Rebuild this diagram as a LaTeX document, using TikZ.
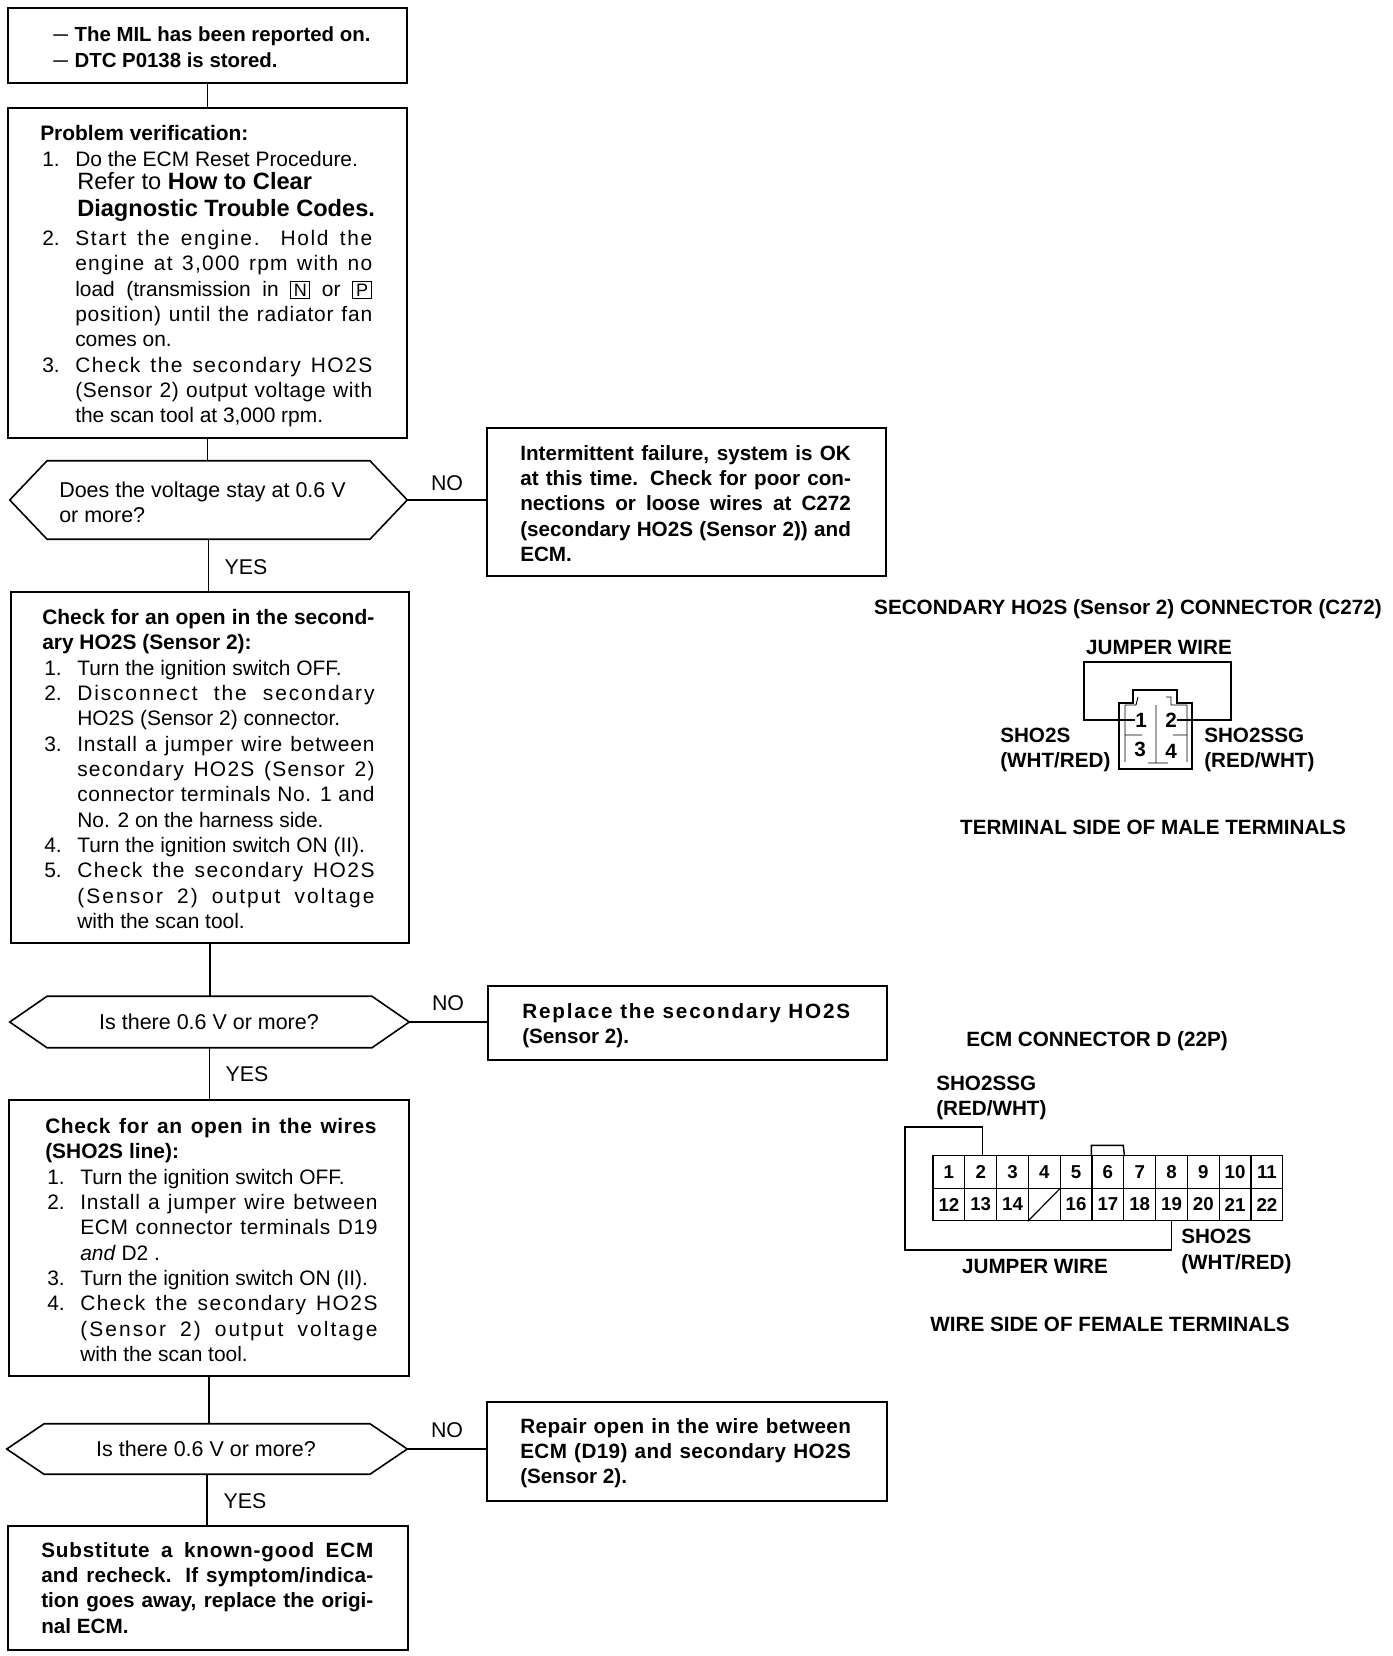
\documentclass[tikz,border=0pt]{standalone}
\usepackage{fontspec}
\setmainfont{Liberation Sans}
\newlength\tw
\newlength\nw
\setlength\nw{24.75pt}
\newcommand\Js[1]{\makebox[\tw][s]{#1}}
\newcommand\Jl[1]{\makebox[\tw][l]{#1}}
\newcommand\It[1]{\makebox[\nw][l]{#1}}
\newcommand\In{\hspace*{\nw}}
\newcommand\Ls[2]{{\addfontfeature{LetterSpace=#1}#2}}
\newcommand\Kbox[1]{{\fboxsep=1.5pt\fboxrule=0.8pt\fbox{\makebox[10.5pt]{\fontsize{13.5}{13.5}\selectfont #1}}}}
\newcommand\Dash{\makebox[16pt][l]{\raisebox{1.2pt}{\fontsize{11}{11}\selectfont\bfseries —}}}
\newcommand\Hexa[1]{\draw[hexline] (#1.west) -- ([xshift=28pt]#1.north west) -- ([xshift=-28pt]#1.north east) -- (#1.east) -- ([xshift=-28pt]#1.south east) -- ([xshift=28pt]#1.south west) -- cycle;}
\tikzset{
  flowbox/.style={draw,line width=1.2pt,inner sep=0pt,anchor=north west},
  decision/.style={inner sep=0pt,anchor=center},
  hexline/.style={line width=1.2pt,line join=miter},
  txt/.style={inner sep=0pt,anchor=north west,align=left,font=\fontsize{15.7}{19}\selectfont},
  btxt/.style={inner sep=0pt,anchor=north west,align=left,font=\bfseries\fontsize{15.5}{19}\selectfont},
  flabel/.style={inner sep=0pt,font=\fontsize{16}{16}\selectfont},
  dlabel/.style={inner sep=0pt,font=\fontsize{16.1}{16.1}\selectfont},
  clabel/.style={inner sep=0pt,font=\bfseries\fontsize{15.5}{15.5}\selectfont},
  link/.style={line width=1.1pt},
  wire/.style={line width=1.1pt},
  thin wire/.style={line width=0.7pt},
  cell/.style={draw,line width=0.9pt,inner sep=0pt,minimum width=23.85pt,minimum height=24.2pt,font=\bfseries\fontsize{14}{14}\selectfont},
}
\begin{document}
\begin{tikzpicture}[x=0.75pt,y=-0.75pt]
\useasboundingbox (0,0) rectangle (1392,1656);
\fill[white] (0,0) rectangle (1392,1656);

% flow boxes
\node[flowbox,minimum width=299.25pt,minimum height=56.25pt] (b1) at (7,7) {};
\node[flowbox,minimum width=299.25pt,minimum height=247.5pt] (b2) at (7,107) {};
\node[flowbox,minimum width=298.5pt,minimum height=263.25pt] (b3) at (10,591) {};
\node[flowbox,minimum width=300pt,minimum height=207pt] (b4) at (8,1099) {};
\node[flowbox,minimum width=300pt,minimum height=93pt] (b5) at (7,1525) {};
\node[flowbox,minimum width=299.25pt,minimum height=111pt] (n1) at (486,427) {};
\node[flowbox,minimum width=299.25pt,minimum height=55.5pt] (n2) at (487,985) {};
\node[flowbox,minimum width=300pt,minimum height=74.25pt] (n3) at (486,1401) {};

% decisions
\node[decision,minimum width=297.75pt,minimum height=58.5pt] (d1) at (208.5,500) {};
\node[decision,minimum width=299.25pt,minimum height=38.25pt] (d2) at (209.5,1022) {};
\node[decision,minimum width=300pt,minimum height=37.5pt] (d3) at (207,1449) {};
\Hexa{d1}
\Hexa{d2}
\Hexa{d3}

% connectors
\draw[link] (b1.south) -- (b1.south |- b2.north);
\draw[link] (b2.south) -- (b2.south |- d1.north);
\draw[link] (d1.south) -- (d1.south |- b3.north);
\draw[link] (b3.south) -- (b3.south |- d2.north);
\draw[link] (d2.south) -- (d2.south |- b4.north);
\draw[link] (b4.south) -- (b4.south |- d3.north);
\draw[link] (d3.south) -- (d3.south |- b5.north);
\draw[link] (d1.east) -- (n1.west |- d1.east);
\draw[link] (d2.east) -- (n2.west |- d2.east);
\draw[link] (d3.east) -- (n3.west |- d3.east);

% flow labels
\node[flabel] (no1) at (447,483) {NO};
\node[flabel] (no2) at (448,1003) {NO};
\node[flabel] (no3) at (447,1430) {NO};
\node[flabel] (yes1) at (246,567) {YES};
\node[flabel] (yes2) at (247,1074) {YES};
\node[flabel] (yes3) at (245,1501) {YES};

% decision text
\node[txt,font=\fontsize{16.1}{18.5}\selectfont] (dt1) at (59,482) {Does the voltage stay at 0.6 V\\or more?};
\node[dlabel] (dt2) at (209,1022) {Is there 0.6 V or more?};
\node[dlabel] (dt3) at (206,1449) {Is there 0.6 V or more?};

% box text
\node[btxt,font=\bfseries\fontsize{15.3}{19.8}\selectfont] (t1) at (53,26) {\Dash The MIL has been reported on.\\\Dash DTC P0138 is stored.};

\node[txt] (t2) at (40,125.5) {\global\tw=222.75pt\relax
\textbf{Problem verification:}\\
\hspace*{1.5pt}\It{1.}\Jl{Do the ECM Reset Procedure.}\\[-1.7pt]
\hspace*{3pt}\In{\fontsize{17.7}{19}\selectfont Refer to \textbf{How to Clear}}\\[1.3pt]
\hspace*{3pt}\In{\fontsize{17.7}{19}\selectfont\textbf{Diagnostic Trouble Codes.}}\\[2.8pt]
\hspace*{1.5pt}\It{2.}\Js{\Ls{8}{Start the engine. Hold the}}\\
\hspace*{1.5pt}\In\Js{\Ls{6}{engine at 3,000 rpm with no}}\\
\hspace*{1.5pt}\In\Js{load (transmission in \Kbox{N} or \Kbox{P}}\\
\hspace*{1.5pt}\In\Js{\Ls{4}{position) until the radiator fan}}\\
\hspace*{1.5pt}\In\Jl{comes on.}\\
\hspace*{1.5pt}\It{3.}\Js{\Ls{7}{Check the secondary HO2S}}\\
\hspace*{1.5pt}\In\Js{\Ls{3}{(Sensor 2) output voltage with}}\\
\hspace*{1.5pt}\In\Jl{the scan tool at 3,000 rpm.}};

\node[txt] (t3) at (42,609) {\global\tw=249pt\relax
\Js{\textbf{Check for an open in the second-}}\global\tw=223pt\relax\\
\textbf{ary HO2S (Sensor 2):}\\
\hspace*{1.5pt}\It{1.}\Jl{Turn the ignition switch OFF.}\\
\hspace*{1.5pt}\It{2.}\Js{\Ls{9}{Disconnect the secondary}}\\
\hspace*{1.5pt}\In\Jl{HO2S (Sensor 2) connector.}\\
\hspace*{1.5pt}\It{3.}\Js{\Ls{4}{Install a jumper wire between}}\\
\hspace*{1.5pt}\In\Js{\Ls{6}{secondary HO2S (Sensor 2)}}\\
\hspace*{1.5pt}\In\Js{\Ls{3}{connector terminals No. 1 and}}\\
\hspace*{1.5pt}\In\Jl{No. 2 on the harness side.}\\
\hspace*{1.5pt}\It{4.}\Jl{Turn the ignition switch ON (II).}\\
\hspace*{1.5pt}\It{5.}\Js{\Ls{7}{Check the secondary HO2S}}\\
\hspace*{1.5pt}\In\Js{\Ls{10}{(Sensor 2) output voltage}}\\
\hspace*{1.5pt}\In\Jl{with the scan tool.}};

\node[txt] (t4) at (45,1118) {\global\tw=249pt\relax
\Js{\textbf{\Ls{3}{Check for an open in the wires}}}\global\tw=223pt\relax\\
\textbf{(SHO2S line):}\\
\hspace*{1.5pt}\It{1.}\Jl{Turn the ignition switch OFF.}\\
\hspace*{1.5pt}\It{2.}\Js{\Ls{4}{Install a jumper wire between}}\\
\hspace*{1.5pt}\In\Js{\Ls{3}{ECM connector terminals D19}}\\
\hspace*{1.5pt}\In\Jl{\textit{and} D2 .}\\
\hspace*{1.5pt}\It{3.}\Jl{Turn the ignition switch ON (II).}\\
\hspace*{1.5pt}\It{4.}\Js{\Ls{7}{Check the secondary HO2S}}\\
\hspace*{1.5pt}\In\Js{\Ls{10}{(Sensor 2) output voltage}}\\
\hspace*{1.5pt}\In\Jl{with the scan tool.}};

\node[btxt] (t5) at (41,1542) {\global\tw=249pt\relax
\Js{\Ls{4}{Substitute a known-good ECM}}\\
\Js{\Ls{1}{and recheck. If symptom/indica-}}\\
\Js{tion goes away, replace the origi-}\\
nal ECM.};

\node[btxt] (t6) at (520,445) {\global\tw=248pt\relax
\Js{Intermittent failure, system is OK}\\
\Js{at this time. Check for poor con-}\\
\Js{nections or loose wires at C272}\\
\Js{(secondary HO2S (Sensor 2)) and}\\
ECM.};

\node[btxt] (t7) at (522,1003) {\global\tw=246pt\relax
\Js{\Ls{9}{Replace the secondary HO2S}}\\
(Sensor 2).};

\node[btxt] (t8) at (520,1418) {\global\tw=248pt\relax
\Js{\Ls{2}{Repair open in the wire between}}\\
\Js{\Ls{2}{ECM (D19) and secondary HO2S}}\\
(Sensor 2).};

% C272 connector
\node[clabel] (c1title) at (1128,609) {SECONDARY HO2S (Sensor 2) CONNECTOR (C272)};
\node[clabel] (c1jw) at (1159,647) {JUMPER WIRE};
\node[clabel,anchor=west] (c1a) at (1000,735) {SHO2S};
\node[clabel,anchor=west] (c1b) at (1000,762) {(WHT/RED)};
\node[clabel,anchor=west] (c1c) at (1204,735) {SHO2SSG};
\node[clabel,anchor=west] (c1d) at (1204,762) {(RED/WHT)};
\node[clabel] (c1foot) at (1153,827) {TERMINAL SIDE OF MALE TERMINALS};

\draw[wire] (1119,769) -- (1192,769) -- (1192,703) -- (1177,703) -- (1177,690) -- (1133,690) -- (1133,703) -- (1119,703) -- cycle;
\draw[thin wire] (1125,705) -- (1125,762) (1187,705) -- (1187,762)
  (1156,705) -- (1156,763) (1125,735) -- (1142,735) (1173,735) -- (1187,735)
  (1148,763) -- (1168,763) (1138,697) -- (1136,705) (1166,697) -- (1171,697) -- (1171,705)
  (1125,705) -- (1136,705) (1171,705) -- (1187,705);
\node[clabel] (p1) at (1141,720) {1};
\node[clabel] (p2) at (1171,720) {2};
\node[clabel] (p3) at (1140,749) {3};
\node[clabel] (p4) at (1171,751) {4};
\coordinate (j1) at (1084,662);
\coordinate (j2) at (1231,662);
\draw[wire,line width=1.3pt] (p1.west) -- (p1.west -| j1) -- (j1) -- (j2) -- (j2 |- p2.east) -- (p2.east);

% ECM connector
\node[clabel] (c2title) at (1097,1041) {ECM CONNECTOR D (22P)};
\node[clabel,anchor=west] (c2a) at (936,1083) {SHO2SSG};
\node[clabel,anchor=west] (c2b) at (936,1110) {(RED/WHT)};
\node[clabel,anchor=west] (c2c) at (1181,1236) {SHO2S};
\node[clabel,anchor=west] (c2d) at (1181,1264) {(WHT/RED)};
\node[clabel] (c2jw) at (1035,1266) {JUMPER WIRE};
\node[clabel] (c2foot) at (1110,1324) {WIRE SIDE OF FEMALE TERMINALS};

\foreach \i in {1,...,11}{
  \node[cell] (c\i) at ({933+(\i-0.5)*31.8},1172) {\i};
}
\foreach \i in {12,13,14,16,17,18,19,20,21,22}{
  \node[cell] (c\i) at ({933+(\i-11-0.5)*31.8},1204.5) {\i};
}
\node[cell] (c15) at ({933+3.5*31.8},1204.5) {};
\draw[wire,line width=0.9pt] (c15.south west) -- (c15.north east);
\draw[wire] (c6.north west) -- ++(0,-10) -- ++(31.8,0) -- (c6.north east);
\coordinate (k1) at (905,1127);
\coordinate (k2) at (905,1250);
\draw[wire] ([xshift=1.5pt]c2.north) -- ([xshift=1.5pt]c2.north |- k1) -- (k1) -- (k2) -- (k2 -| c19.south) -- (c19.south);
\end{tikzpicture}
\end{document}
